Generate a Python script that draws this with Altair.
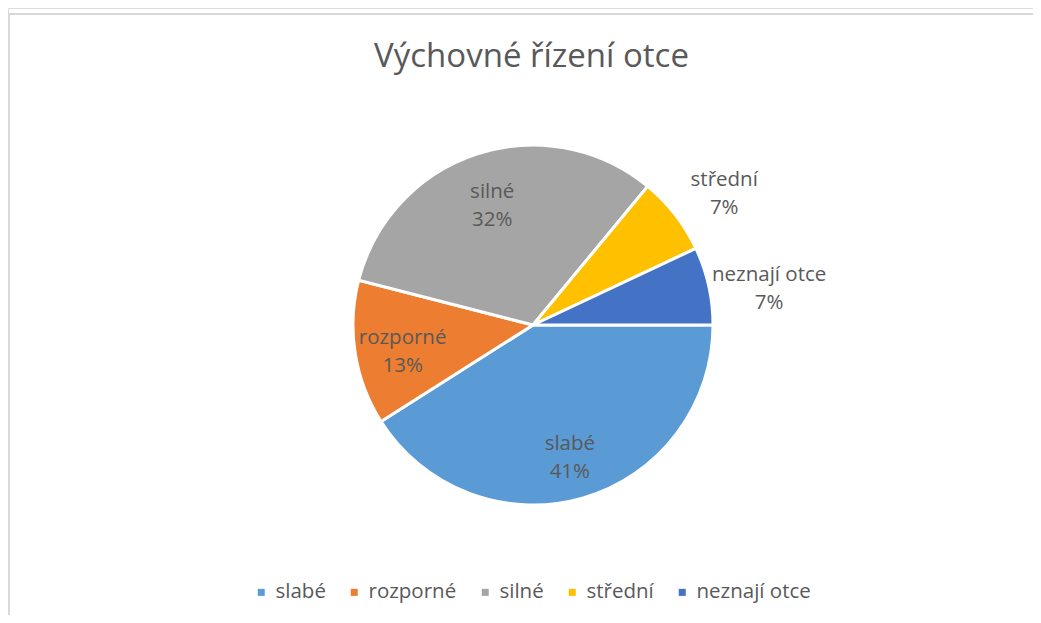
import math
import altair as alt
import pandas as pd

categories = ["slabé", "rozporné", "silné", "střední", "neznají otce"]
percent = [41, 13, 32, 7, 7]
colors = ["#5B9BD5", "#ED7D31", "#A5A5A5", "#FFC000", "#4472C4"]
label_inside = [True, True, True, False, False]

df = pd.DataFrame({
    "kategorie": categories,
    "podil": percent,
    "poradi": list(range(len(categories))),
    "uvnitr": label_inside,
})

FONT = "Open Sans"
GRAY = "#595959"
W, H = 1025, 607
CX, CY = 525, 317

theta = alt.Theta("podil:Q", stack=True,
                  scale=alt.Scale(range=[math.pi / 2, math.pi / 2 + 2 * math.pi]))
order = alt.Order("poradi:Q", sort="ascending")

base = alt.Chart(df)

pie = base.mark_arc(outerRadius=180, stroke="white", strokeWidth=3).encode(
    theta=theta,
    order=order,
    x=alt.value(CX),
    y=alt.value(CY),
    color=alt.Color(
        "kategorie:N",
        scale=alt.Scale(domain=categories, range=colors),
        legend=alt.Legend(
            title=None, orient="none", direction="horizontal",
            legendX=243, legendY=574,
            symbolType="square", symbolSize=49, symbolStrokeWidth=0,
            labelFont=FONT, labelFontSize=20.5, labelColor=GRAY,
            labelOffset=4, columnPadding=18,
        ),
    ),
    tooltip=["kategorie:N", "podil:Q"],
)

text_style = dict(font=FONT, fontSize=20.5, color=GRAY, lineBreak="\n",
                  lineHeight=28, baseline="middle", align="center")

labels_in = base.transform_calculate(
    lab="datum.uvnitr ? datum.kategorie + '\\n' + datum.podil + '%' : ''"
).mark_text(dy=-7.5, **text_style).encode(
    theta=theta, order=order, x=alt.value(CX), y=alt.value(CY),
    radius=alt.value(132), text="lab:N",
)

labels_out = base.transform_calculate(
    lab="datum.uvnitr ? '' : datum.kategorie + '\\n' + datum.podil + '%'"
).mark_text(dy=3, **text_style).encode(
    theta=theta, order=order, x=alt.value(CX), y=alt.value(CY),
    radius=alt.value(242), text="lab:N",
)

frame_df = pd.DataFrame({"k": [0]})
top_border = alt.Chart(frame_df).mark_rule(color="#d9d9d9", strokeWidth=2).encode(
    x=alt.value(0), x2=alt.value(W), y=alt.value(6)
)
left_border = alt.Chart(frame_df).mark_rule(color="#d9d9d9", strokeWidth=2).encode(
    x=alt.value(1), y=alt.value(5), y2=alt.value(H)
)

chart = alt.layer(top_border, left_border, pie, labels_in, labels_out).properties(
    width=W, height=H,
    autosize=alt.AutoSizeParams(type="none"),
    padding={"left": 0, "top": 0, "right": 0, "bottom": 0},
    title=alt.TitleParams(
        "Výchovné řízení otce", font=FONT, fontSize=33, fontWeight="normal",
        color=GRAY, anchor="middle", offset=-66, dx=11,
    ),
).configure_view(stroke=None).configure(background="white")

chart.save("out.html", embed_options={"renderer": "svg", "actions": False})
